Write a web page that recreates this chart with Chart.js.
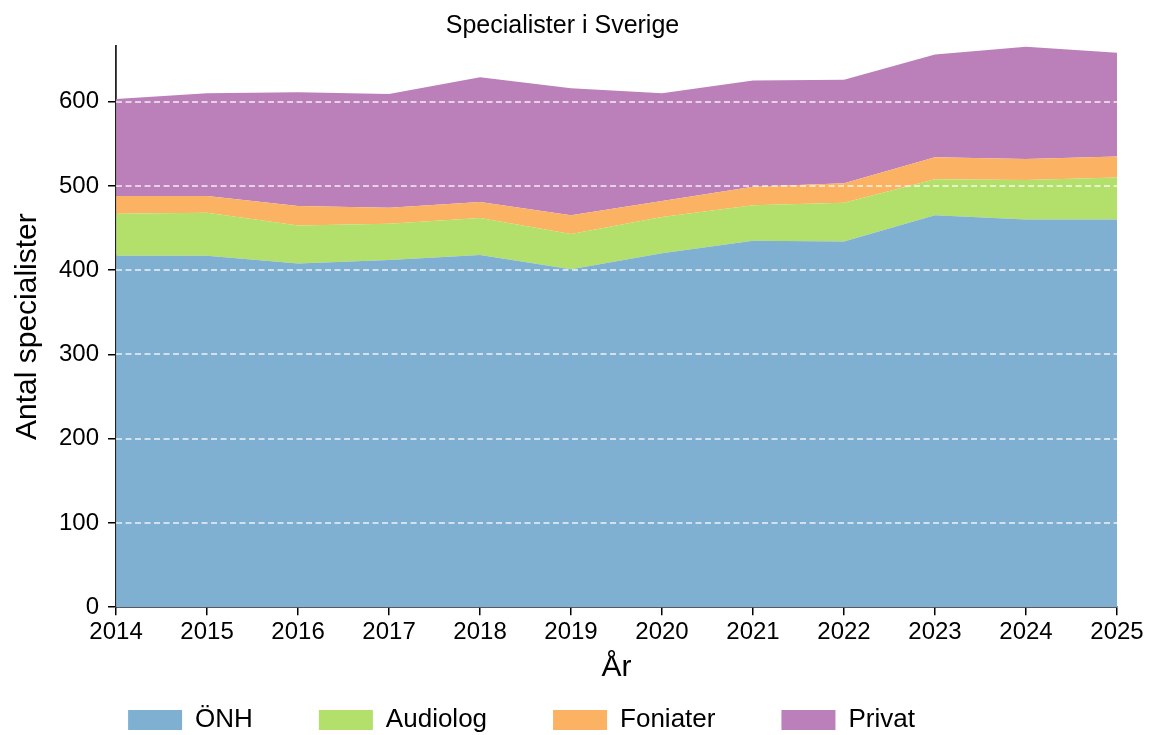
<!DOCTYPE html>
<html>
<head>
<meta charset="utf-8">
<script src="https://cdn.jsdelivr.net/npm/chart.js@4"></script>
<style>
  html, body { margin: 0; padding: 0; background: #fff; }
  #wrap { width: 1151px; height: 735px; }
</style>
</head>
<body>
<div id="wrap"><canvas id="specChart"></canvas></div>
<script>
// data
const years = ['2014', '2015', '2016', '2017', '2018', '2019', '2020', '2021', '2022', '2023', '2024', '2025'];
const onh = [417, 417, 408, 412, 418, 401, 420, 435, 434, 465, 460, 460];
const audiolog = [50, 51, 45, 43, 44, 42, 43, 42, 46, 43, 47, 50];
const foniater = [21, 20, 23, 19, 19, 22, 19, 22, 23, 26, 25, 25];
const privat = [115, 122, 135, 135, 148, 151, 128, 126, 123, 122, 133, 123];
const yTicks = [0, 100, 200, 300, 400, 500, 600];

const FONT = "'Liberation Sans', Arial, Helvetica, sans-serif";
Chart.defaults.font.family = FONT;
Chart.defaults.color = '#000';

// white dashed grid on top of the areas
const topGrid = {
    id: 'topGrid',
    afterDatasetsDraw(chart) {
        const { ctx, chartArea, scales } = chart;
        ctx.save();
        ctx.strokeStyle = 'rgba(255,255,255,0.85)';
        ctx.lineWidth = 1.5;
        ctx.setLineDash([6, 3.5]);
        yTicks.forEach(v => {
            if (v === 0) return;
            const y = Math.round(scales.y.getPixelForValue(v));
            ctx.beginPath();
            ctx.moveTo(chartArea.left, y);
            ctx.lineTo(chartArea.right, y);
            ctx.stroke();
        });
        ctx.restore();
    }
};

// move the legend row to where the reference has it
const legendPlace = {
    id: 'legendPlace',
    afterLayout(chart) {
        const lg = chart.legend;
        const dx = -41;
        lg.left += dx;
        lg.right += dx;
        lg.top = 707 - 66;
    }
};

function area(label, data, color, fill) {
    return {
        label: label,
        data: data,
        backgroundColor: color,
        borderColor: color,
        borderWidth: 0,
        pointRadius: 0,
        fill: fill,
        tension: 0
    };
}

const ctx = document.getElementById('specChart').getContext('2d');
new Chart(ctx, {
    type: 'line',
    data: {
        labels: years,
        datasets: [
            area('ÖNH', onh, '#7fafd1', 'origin'),
            area('Audiolog', audiolog, '#b3df6b', '-1'),
            area('Foniater', foniater, '#fbb262', '-1'),
            area('Privat', privat, '#bb7fb9', '-1')
        ]
    },
    options: {
        responsive: true,
        maintainAspectRatio: false,
        animation: false,
        layout: { padding: { left: 8, right: 34, top: 0, bottom: 0 } },
        plugins: {
            title: {
                display: true,
                text: 'Specialister i Sverige',
                font: { size: 25, weight: 'normal' },
                padding: { top: 11, bottom: 5 }
            },
            legend: {
                position: 'bottom',
                maxHeight: 49,
                labels: {
                    boxWidth: 54,
                    boxHeight: 20,
                    padding: 66,
                    font: { size: 26 }
                }
            },
            tooltip: { enabled: false }
        },
        scales: {
            x: {
                offset: false,
                grid: { display: true, drawOnChartArea: false, color: '#000', lineWidth: 1.5, tickLength: 8 },
                border: { color: '#222', width: 1.8 },
                ticks: { font: { size: 24 }, maxRotation: 0, padding: 3, autoSkip: false },
                title: { display: true, text: 'År', font: { size: 30 }, padding: { top: 0, bottom: 0 } }
            },
            y: {
                stacked: true,
                min: 0,
                max: 666,
                afterBuildTicks(scale) { scale.ticks = yTicks.map(v => ({ value: v })); },
                grid: { display: true, drawOnChartArea: false, color: '#000', lineWidth: 1.5, tickLength: 8 },
                border: { color: '#222', width: 1.8 },
                ticks: { font: { size: 24 }, padding: 9 },
                title: { display: true, text: 'Antal specialister', font: { size: 30 }, padding: { top: 2, bottom: 4 } }
            }
        }
    },
    plugins: [topGrid, legendPlace]
});
</script>
</body>
</html>
